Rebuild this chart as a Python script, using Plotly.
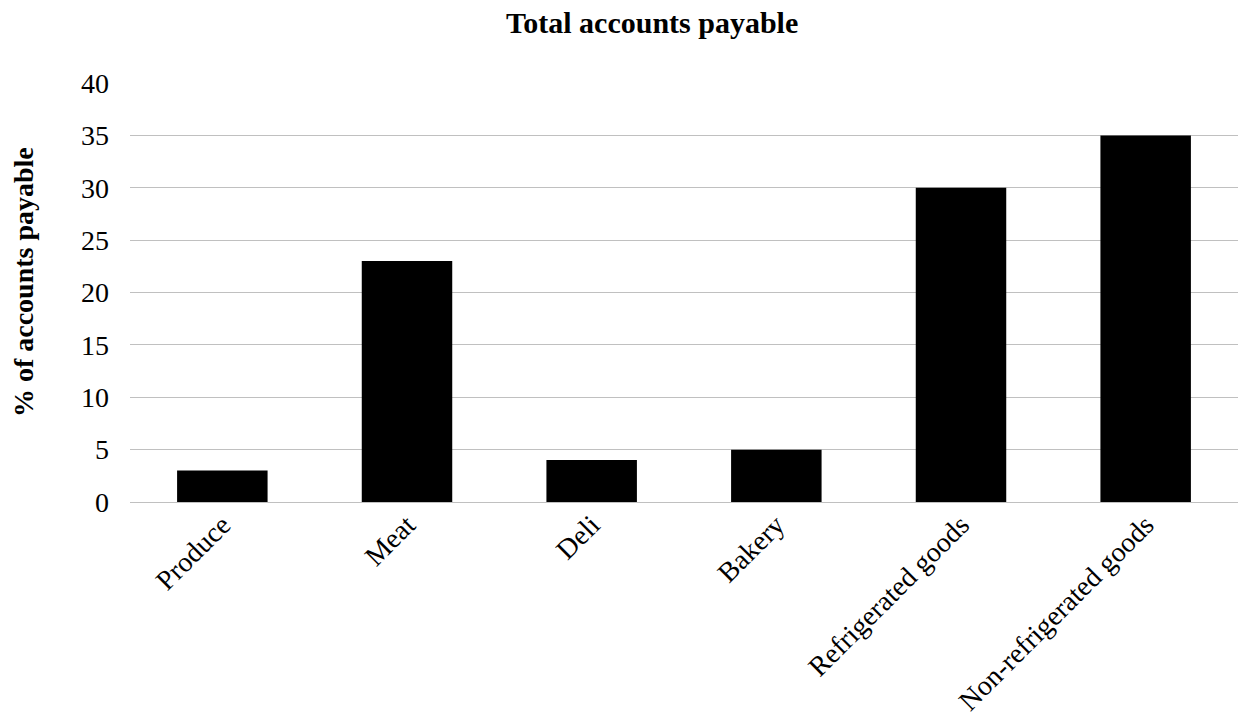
import plotly.graph_objects as go

categories = ["Produce", "Meat", "Deli", "Bakery", "Refrigerated goods", "Non-refrigerated goods"]
values = [3, 23, 4, 5, 30, 35]
y_ticks = [0, 5, 10, 15, 20, 25, 30, 35, 40]

W, H = 1245, 723
L, R, T, B = 130, 7, 83, 217
PW, PH = W - L - R, H - T - B

fig = go.Figure(go.Bar(x=categories, y=values, marker=dict(color="black", line=dict(width=0)), width=0.49))

fig.update_layout(
    width=W, height=H,
    margin=dict(l=L, r=R, t=T, b=B),
    plot_bgcolor="white", paper_bgcolor="white",
    font=dict(family="Liberation Serif", color="black", size=28),
    showlegend=False,
    annotations=[
        dict(text="<b>Total accounts payable</b>", x=(652 - L) / PW, y=1 + (T - 22) / PH,
             xref="paper", yref="paper", showarrow=False, font=dict(size=30),
             xanchor="center", yanchor="middle"),
        dict(text="<b>% of accounts payable</b>", x=(23 - L) / PW, y=(H - B - 284) / PH,
             xref="paper", yref="paper", showarrow=False, font=dict(size=28), textangle=-90,
             xanchor="center", yanchor="middle"),
    ],
)

fig.update_yaxes(range=[0, 40], tickvals=y_ticks, showgrid=True, gridcolor="#c0c0c0", gridwidth=1,
                 zeroline=True, zerolinecolor="#c0c0c0", zerolinewidth=1, ticks="", ticklen=0,
                 showline=False, tickfont=dict(size=28), ticklabelstandoff=20)
fig.update_xaxes(tickangle=-45, tickfont=dict(size=28), showline=False, ticks="", showgrid=False)

fig.write_html("out.html")
